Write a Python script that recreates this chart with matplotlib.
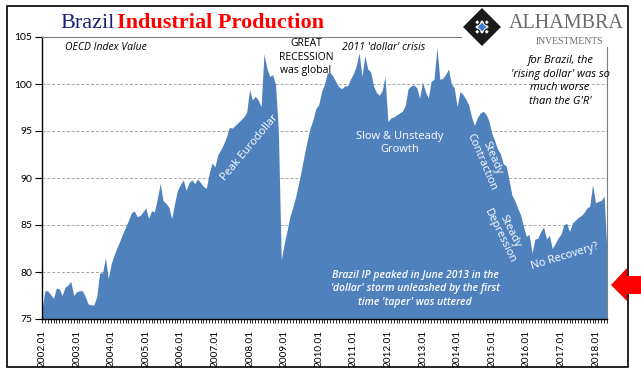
import matplotlib
matplotlib.use("Agg")
import matplotlib.pyplot as plt
from matplotlib.patches import Polygon, Rectangle
from matplotlib.ticker import MultipleLocator, FixedLocator
import numpy as np

W, H = 641, 379

# ---- data (monthly, 2002.01 .. 2018.05) ----
ip_values = [
    76.0, 78.0, 78.0, 77.6, 77.2, 78.3, 78.2, 77.5, 78.4, 78.6, 79.0, 77.5,   # 2002
    77.9, 78.0, 78.0, 77.4, 76.6, 76.5, 76.5, 77.4, 79.9, 79.9, 81.5, 79.3,   # 2003
    80.9, 81.8, 82.6, 83.3, 84.1, 84.8, 85.5, 86.3, 86.5, 85.9, 86.0, 86.4,   # 2004
    86.8, 85.7, 86.5, 86.4, 87.8, 89.4, 87.6, 87.3, 86.9, 85.7, 87.3, 88.7,   # 2005
    89.3, 89.8, 88.7, 89.5, 89.8, 89.4, 89.9, 89.5, 89.1, 88.9, 90.5, 91.6,   # 2006
    91.2, 92.5, 93.0, 93.6, 94.4, 95.4, 95.3, 95.6, 95.9, 96.2, 96.5, 97.0,   # 2007
    99.4, 98.3, 98.7, 98.3, 97.6, 103.2, 101.7, 100.8, 101.0, 100.0, 95.0, 81.3,  # 2008
    83.0, 84.4, 85.9, 86.9, 88.0, 89.4, 90.9, 92.5, 94.0, 95.3, 96.2, 97.4,   # 2009
    97.8, 99.2, 100.0, 101.2, 101.2, 100.8, 100.2, 99.7, 99.5, 99.8, 99.8, 100.5,  # 2010
    101.1, 101.9, 103.3, 100.8, 103.0, 101.6, 101.3, 99.8, 99.1, 98.8, 99.3, 100.8,  # 2011
    96.0, 96.4, 96.5, 96.7, 96.9, 97.1, 97.7, 99.5, 99.8, 99.9, 99.6, 98.5,   # 2012
    100.2, 99.2, 98.5, 100.3, 100.5, 103.9, 100.5, 100.6, 101.0, 101.6, 100.0, 99.6,  # 2013
    97.6, 99.2, 98.9, 98.4, 97.8, 96.5, 95.6, 96.4, 96.9, 97.1, 96.8, 96.1,   # 2014
    94.8, 94.0, 93.1, 92.6, 91.5, 91.3, 89.8, 88.2, 87.6, 86.8, 86.1, 84.9,   # 2015
    83.8, 84.0, 82.0, 83.5, 83.6, 84.3, 84.8, 83.5, 83.9, 82.5, 83.0, 83.6,   # 2016
    84.0, 85.0, 85.2, 84.3, 85.2, 85.5, 85.8, 86.0, 86.3, 86.8, 87.0, 89.3,   # 2017
    87.4, 87.5, 87.6, 88.1, 82.0,                                             # 2018
]
years = list(range(2002, 2019))
year_labels = [f"{y}.01" for y in years]
y_ticks = [75, 80, 85, 90, 95, 100, 105]

BLUE = "#4F81BD"

fig = plt.figure(figsize=(W / 100, H / 100), dpi=100)
fig.patch.set_facecolor("white")


def fx(px):
    return px / W


def fy(py):
    return 1 - py / H


# plot area
ax = fig.add_axes([fx(42), fy(319), (607 - 42) / W, (319 - 37) / H])
x = np.arange(len(ip_values))
ax.fill_between(x, 75, ip_values, color=BLUE, linewidth=0, zorder=2)
ax.set_xlim(0, len(ip_values) - 1)
ax.set_ylim(75, 105)

ax.set_yticks(y_ticks)
ax.set_yticklabels([str(v) for v in y_ticks], fontsize=7.5, family="Lato")
for v in y_ticks[1:-1]:
    ax.axhline(v, color="#a6a6a6", linestyle=(0, (3, 2)), linewidth=0.7, zorder=1)

ax.xaxis.set_major_locator(FixedLocator([12 * i for i in range(len(years))]))
ax.set_xticklabels(year_labels, rotation=90, fontsize=7.2, family="Lato")
ax.xaxis.set_minor_locator(MultipleLocator(1))
ax.tick_params(axis="x", which="both", length=3, width=0.6, direction="out", pad=5)
ax.tick_params(axis="y", length=5, width=0.8, direction="out", pad=2)

for s in ["left", "bottom"]:
    ax.spines[s].set_color("black")
    ax.spines[s].set_linewidth(1.0)
for s in ["top", "right"]:
    ax.spines[s].set_color("#7f7f7f")
    ax.spines[s].set_linewidth(0.8)

# outer frame
fig.patches.append(Rectangle((fx(7), fy(367)), (628 - 7) / W, (367 - 6) / H,
                             transform=fig.transFigure, fill=False,
                             edgecolor="black", linewidth=1.2, zorder=0))

# logo background (covers plot border corner)
fig.patches.append(Rectangle((fx(462), fy(47)), (627 - 462) / W, (47 - 7) / H,
                             transform=fig.transFigure, facecolor="white",
                             edgecolor="none", zorder=5))


def diamond(cx, cy, r, **kw):
    pts = [(fx(cx), fy(cy - r)), (fx(cx + r), fy(cy)), (fx(cx), fy(cy + r)), (fx(cx - r), fy(cy))]
    fig.patches.append(Polygon(pts, closed=True, transform=fig.transFigure, zorder=6, **kw))


cx, cy = 482, 27
diamond(cx, cy, 19, facecolor="#1a1a1a", edgecolor="none")
step = 19 / 4.0
for i in range(-3, 4):
    for j in range(-3, 4):
        if abs(i) + abs(j) <= 3 and (i + j) % 2 == 0:
            px = cx + (i - j) * step / 2
            py = cy + (i + j) * step / 2
            diamond(px, py, step * 0.42, facecolor="white", edgecolor="none")
diamond(cx, cy, 5.5, facecolor="white", edgecolor="none")
diamond(cx, cy, 4.2, facecolor="#3d7cc9", edgecolor="none")

fig.text(fx(566), fy(24), "ALHAMBRA", fontsize=14.5, family="Liberation Serif",
         color="#6b6b6b", ha="center", va="center", zorder=7)
fig.text(fx(570), fy(42), "INVESTMENTS", fontsize=7, family="Liberation Serif",
         color="#6b6b6b", ha="center", va="center", zorder=7)

# title
fig.text(fx(60), fy(28), "Brazil", fontsize=16, family="Liberation Serif",
         color="#1c1c7a", ha="left", va="baseline")
fig.text(fx(117), fy(28), "Industrial Production", fontsize=16, family="Liberation Serif",
         fontweight="bold", color="#ff0000", ha="left", va="baseline")

# annotations
fig.text(fx(65), fy(47), "OECD Index Value", fontsize=7.5, family="Open Sans",
         style="italic", ha="left", va="center")
fig.text(fx(306), fy(57), "GREAT\nRECESSION\nwas global", fontsize=7.5, family="Open Sans",
         ha="center", va="center", linespacing=1.25)
fig.text(fx(342), fy(47), "2011 'dollar' crisis", fontsize=7.5, family="Open Sans",
         style="italic", ha="left", va="center")
fig.text(fx(560), fy(81), "for Brazil, the\n'rising dollar' was so\nmuch worse\nthan the G'R'",
         fontsize=8, family="Open Sans", style="italic", ha="center", va="center",
         linespacing=1.3, zorder=8)

fig.text(fx(250), fy(148), "Peak Eurodollar", fontsize=8, family="Open Sans",
         color="white", rotation=50, ha="center", va="center")
fig.text(fx(400), fy(143), "Slow & Unsteady\nGrowth", fontsize=8, family="Open Sans",
         color="white", ha="center", va="center", linespacing=1.2)
fig.text(fx(487), fy(160), "Steady\nContraction", fontsize=8, family="Open Sans",
         color="white", rotation=-67, ha="center", va="center", linespacing=1.1)
fig.text(fx(505), fy(234), "Steady\nDepression", fontsize=8, family="Open Sans",
         color="white", rotation=-64, ha="center", va="center", linespacing=1.1)
fig.text(fx(565), fy(257), "No Recovery?", fontsize=8, family="Open Sans",
         color="white", rotation=17, ha="center", va="center")
fig.text(fx(415), fy(289), "Brazil IP peaked in June 2013 in the\n'dollar' storm unleashed by the first\ntime 'taper' was uttered",
         fontsize=7.5, family="Open Sans", style="italic", fontweight="semibold",
         color="white", ha="center", va="center", linespacing=1.3)

# red arrow
arrow_pts = [(611, 285), (627, 268), (627, 276), (641, 276), (641, 294), (627, 294), (627, 301)]
fig.patches.append(Polygon([(fx(a), fy(b)) for a, b in arrow_pts], closed=True,
                           transform=fig.transFigure, facecolor="#ff0000",
                           edgecolor="none", zorder=9))

fig.savefig("out.png", dpi=100, facecolor="white")
